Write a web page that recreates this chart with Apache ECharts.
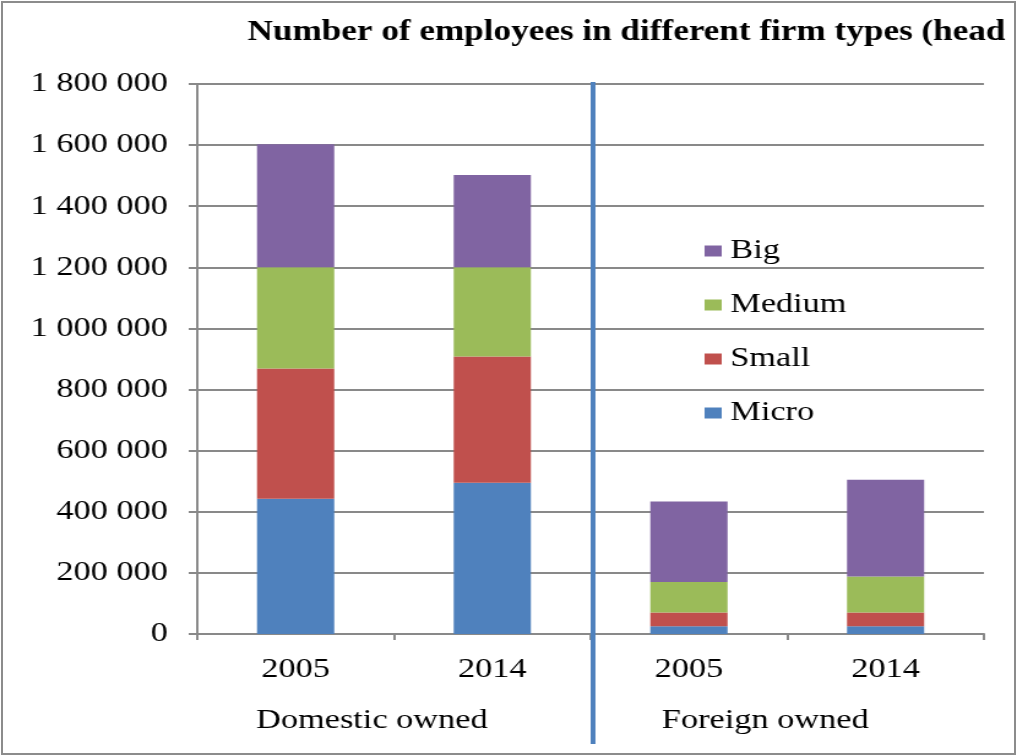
<!DOCTYPE html>
<html lang="en">
<head>
    <meta charset="UTF-8">
    <title>Employees by firm type</title>
    <script type="text/javascript" src="https://cdn.jsdelivr.net/npm/echarts@6/dist/echarts.min.js"></script>
    <style>
        html, body { margin: 0; padding: 0; background: #fff; overflow: hidden; }
        #wrap { position: relative; width: 1017px; height: 756px; overflow: hidden; }
        /* the source picture is stretched sideways, so the chart is too */
        #main { position: absolute; left: 0; top: 0; width: 830px; height: 756px;
                transform: scaleX(1.2253); transform-origin: 0 0; }
        #frame { position: absolute; left: 1px; top: 1px; width: 1015px; height: 754px;
                 box-sizing: border-box; border: 2px solid #8c8c8c; pointer-events: none; }
    </style>
</head>
<body>
<div id="wrap">
    <div id="main"></div>
    <div id="frame"></div>
</div>

<script>
    const years = ['2005', '2014', '2005', '2014'];
    const groups = ['Domestic owned', 'Foreign owned'];
    const micro  = [443000, 495000, 25000, 25000];
    const small  = [426000, 413000, 45000, 45000];
    const medium = [331000, 292000, 100000, 118000];
    const big    = [403000, 302000, 264000, 317000];
    const yTicks = { min: 0, max: 1800000, interval: 200000 };

    const serif = "'Liberation Serif', 'Times New Roman', serif";
    const gray = '#898989';

    let myChart = echarts.init(document.getElementById('main'));

    function spaced(v) {
        return String(v).replace(/\B(?=(\d{3})+(?!\d))/g, ' ');
    }

    function bar(name, data, color) {
        return {
            name: name,
            type: 'bar',
            stack: 'total',
            barWidth: 63,
            data: data,
            itemStyle: { color: color },
            animation: false
        };
    }

    let option = {
        backgroundColor: '#fff',
        title: {
            text: 'Number of employees in different firm types (head',
            left: 197,
            top: 13,
            textStyle: {
                fontFamily: serif,
                fontWeight: 'bold',
                fontSize: 28.7,
                color: '#000'
            }
        },
        legend: {
            orient: 'vertical',
            left: 570,
            top: 232,
            icon: 'rect',
            itemWidth: 14,
            itemHeight: 11,
            itemGap: 26,
            data: ['Big', 'Medium', 'Small', 'Micro'],
            textStyle: { fontFamily: serif, fontSize: 28, color: '#000', padding: [0, 0, 0, 2] }
        },
        grid: { left: 161, right: 27, top: 84, bottom: 122 },
        xAxis: [
            {
                type: 'category',
                data: years,
                axisLine: { lineStyle: { color: gray, width: 2 } },
                axisTick: { show: true, length: 6, lineStyle: { color: gray, width: 2 } },
                axisLabel: { margin: 22, fontFamily: serif, fontSize: 28, color: '#000' }
            },
            {
                type: 'category',
                data: groups,
                position: 'bottom',
                axisLine: { show: false },
                axisTick: { show: false },
                axisLabel: { margin: 73, fontFamily: serif, fontSize: 28, color: '#000',
                             padding: [0, 36, 0, 0] }
            }
        ],
        yAxis: {
            type: 'value',
            min: yTicks.min,
            max: yTicks.max,
            interval: yTicks.interval,
            axisLine: { show: true, lineStyle: { color: gray, width: 2 } },
            axisTick: { show: true, length: 7, lineStyle: { color: gray, width: 2 } },
            splitLine: { lineStyle: { color: gray, width: 2 } },
            axisLabel: { margin: 24, fontFamily: serif, fontSize: 28, color: '#000',
                         formatter: spaced }
        },
        series: [
            bar('Micro', micro, '#4f81bd'),
            bar('Small', small, '#c0504d'),
            bar('Medium', medium, '#9bbb59'),
            bar('Big', big, '#8064a2')
        ]
    };

    myChart.setOption(option);

    // blue divider between domestic and foreign groups
    let x1 = myChart.convertToPixel({ xAxisIndex: 0 }, 1);
    let x2 = myChart.convertToPixel({ xAxisIndex: 0 }, 2);
    let xm = (x1 + x2) / 2 + 2;
    let yTop = myChart.convertToPixel({ yAxisIndex: 0 }, yTicks.max) - 2;
    myChart.setOption({
        graphic: [{
            type: 'line',
            shape: { x1: xm, y1: yTop, x2: xm, y2: 744 },
            style: { stroke: '#4f81bd', lineWidth: 4 },
            z: 100
        }]
    });
</script>
</body>
</html>
